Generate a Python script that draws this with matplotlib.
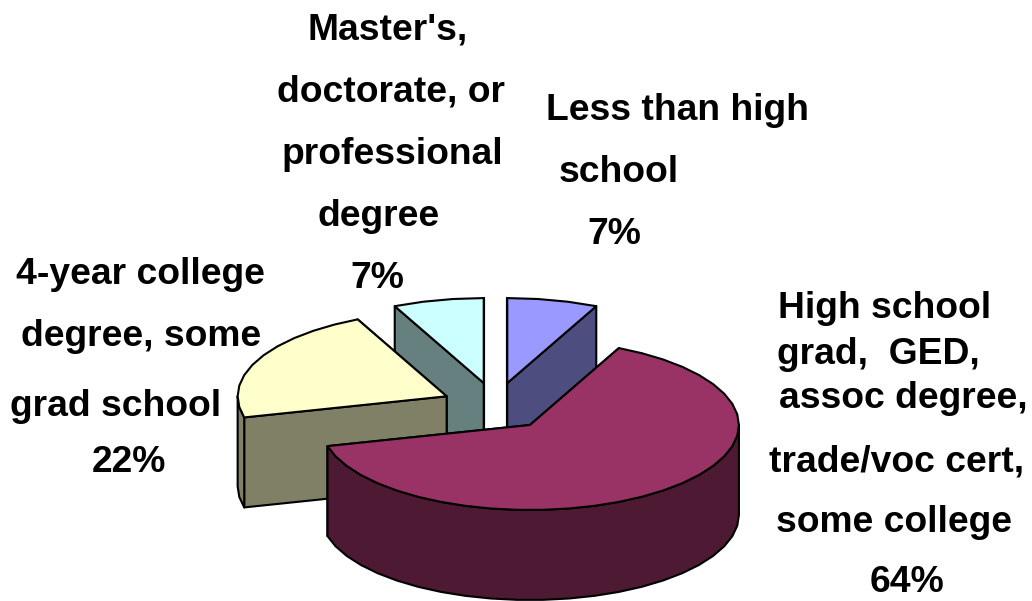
import numpy as np
import matplotlib
matplotlib.use('Agg')
import matplotlib.pyplot as plt
from matplotlib.patches import Polygon

# Pie values, clockwise from 12 o'clock
categories = ['Less than high school',
              'High school grad, GED, assoc degree, trade/voc cert, some college',
              '4-year college degree, some grad school',
              "Master's, doctorate, or professional degree"]
values = [7, 64, 22, 7]
top_colors = ['#9999FF', '#993366', '#FFFFCC', '#CCFFFF']
side_colors = ['#4D4D80', '#4D1933', '#808066', '#668080']

# Label lines as they are broken in the picture
label_lines = [
    ['Less than high', 'school', '7%'],
    ['High school', 'grad,  GED,', 'assoc degree,', 'trade/voc cert,', 'some college', '64%'],
    ['4-year college', 'degree, some', 'grad school', '22%'],
    ["Master's,", 'doctorate, or', 'professional', 'degree', '7%'],
]
label_pos = [
    [(677, 110), (619, 172), (614, 235)],
    [(885, 309), (878, 354), (903, 399), (897, 462), (894, 523), (907, 583)],
    [(140, 275), (141, 337), (116, 406), (129, 462)],
    [(388, 30), (391, 92), (392, 154), (379, 217), (377, 278)],
]

# Projection of the 3D pie, in pixels
cx, cy = 495.5, 406.5
rx, ry = 209, 85
depth = 90
explode_x, explode_y = 54, 24

fig = plt.figure(figsize=(10.32, 6.01), dpi=100)
ax = fig.add_axes([0, 0, 1, 1])
ax.set_xlim(0, 1032)
ax.set_ylim(601, 0)
ax.axis('off')


def rim(ox, oy, a):
    return ox + rx * np.sin(a), oy - ry * np.cos(a)


def arc(a0, a1):
    # the outline in the reference is made of short straight pieces
    return np.linspace(a0, a1, max(2, int(np.degrees(a1 - a0) / 7) + 1))


def poly(pts, color, z):
    ax.add_patch(Polygon(pts, closed=True, facecolor=color, edgecolor='black',
                         linewidth=1.5, joinstyle='round', zorder=z))


edges = np.radians(np.cumsum([0] + values) / sum(values) * 360)

# painter's order: back slices first
order = [3, 0, 2, 1]
for n, i in enumerate(order):
    a0, a1 = edges[i], edges[i + 1]
    mid = (a0 + a1) / 2
    ox = cx + explode_x * np.sin(mid)
    oy = cy - explode_y * np.cos(mid)
    z = 2 + n * 3

    # straight cut faces, the one further back goes first
    for a in sorted([a0, a1], key=lambda t: -np.cos(t)):
        x, y = rim(ox, oy, a)
        poly([(ox, oy), (x, y), (x, y + depth), (ox, oy + depth)], side_colors[i], z)

    # outer wall, only the part facing the viewer
    w0, w1 = max(a0, np.pi / 2), min(a1, 3 * np.pi / 2)
    if w1 > w0:
        x, y = rim(ox, oy, arc(w0, w1))
        pts = np.r_[np.c_[x, y], np.c_[x, y + depth][::-1]]
        poly(pts, side_colors[i], z + 1)

    # top
    x, y = rim(ox, oy, arc(a0, a1))
    poly(np.r_[[(ox, oy)], np.c_[x, y]], top_colors[i], z + 2)

for lines, pos in zip(label_lines, label_pos):
    for s, (x, y) in zip(lines, pos):
        ax.text(x, y, s, family='Liberation Sans', fontweight='bold', fontsize=26.8,
                ha='center', va='center', color='black', zorder=30)

fig.savefig('out.png', dpi=100)
